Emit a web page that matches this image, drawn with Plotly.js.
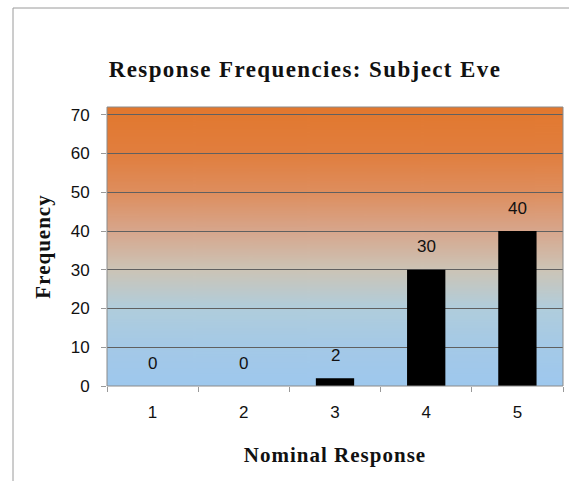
<!DOCTYPE html>
<html>
<head>
<meta charset="utf-8">
<script src="https://cdn.plot.ly/plotly-3.0.1.min.js"></script>
<style>
html,body{margin:0;padding:0;background:#fff;}
#chart{width:569px;height:481px;}
.gtitle{letter-spacing:1.4px;}
.xtitle,.ytitle{letter-spacing:1px;}
</style>
</head>
<body>
<div id="chart"></div>
<script>
const categories = ['1', '2', '3', '4', '5'];
const frequencies = [0, 0, 2, 30, 40];
const yTicks = [0, 10, 20, 30, 40, 50, 60, 70];

// vertical gradient background image
const cv = document.createElement('canvas');
cv.width = 8; cv.height = 400;
const ctx = cv.getContext('2d');
const g = ctx.createLinearGradient(0, 0, 0, 400);
g.addColorStop(0.0, 'rgb(226,120,46)');
g.addColorStop(0.167, 'rgb(225,126,62)');
g.addColorStop(0.306, 'rgb(222,142,94)');
g.addColorStop(0.444, 'rgb(215,166,140)');
g.addColorStop(0.583, 'rgb(204,196,182)');
g.addColorStop(0.722, 'rgb(176,205,220)');
g.addColorStop(0.861, 'rgb(164,201,231)');
g.addColorStop(1.0, 'rgb(158,200,238)');
ctx.fillStyle = g; ctx.fillRect(0, 0, 8, 400);
const bgUrl = cv.toDataURL('image/png');

const labelFont = {family: 'Liberation Sans, Arial, sans-serif', size: 17, color: '#111'};

const annotations = categories.map((c, i) => ({
  x: i, y: frequencies[i], xref: 'x', yref: 'y',
  text: String(frequencies[i]), showarrow: false,
  yanchor: 'middle', yshift: 23, font: labelFont
}));

const trace = {
  type: 'bar', x: categories, y: frequencies,
  marker: {color: '#000000', line: {width: 0}},
  hoverinfo: 'x+y'
};

const layout = {
  width: 569, height: 481,
  margin: {l: 107, r: 6, t: 107, b: 95},
  paper_bgcolor: '#ffffff',
  plot_bgcolor: 'rgba(0,0,0,0)',
  bargap: 0.58,
  showlegend: false,
  title: {
    text: '<b>Response Frequencies: Subject Eve</b>',
    font: {family: 'Liberation Serif, Times New Roman, serif', size: 23, color: '#111'},
    x: 305/569, xanchor: 'center', xref: 'container',
    y: 1 - 69/481, yanchor: 'middle', yref: 'container'
  },
  xaxis: {
    type: 'category',
    range: [-0.5, categories.length - 0.5],
    tickson: 'boundaries',
    ticks: 'outside', ticklen: 5, tickcolor: '#999',
    ticklabelstandoff: 14,
    showgrid: false, zeroline: false, showline: false,
    tickfont: labelFont,
    title: {text: '<b>Nominal Response</b>', standoff: 26,
      font: {family: 'Liberation Serif, Times New Roman, serif', size: 21, color: '#111'}}
  },
  yaxis: {
    range: [0, 72],
    tickvals: yTicks, ticktext: yTicks.map(String),
    ticks: 'outside', ticklen: 5, tickcolor: '#999',
    ticklabelstandoff: 8,
    showgrid: true, gridcolor: '#606060', gridwidth: 1,
    zeroline: false, showline: false,
    tickfont: labelFont,
    title: {text: '<b>Frequency</b>', standoff: 14,
      font: {family: 'Liberation Serif, Times New Roman, serif', size: 21, color: '#111'}}
  },
  images: [{
    source: bgUrl, xref: 'paper', yref: 'paper', x: 0, y: 1,
    sizex: 1, sizey: 1, sizing: 'stretch', xanchor: 'left', yanchor: 'top',
    layer: 'below', opacity: 1
  }],
  shapes: [
    {type: 'rect', xref: 'paper', yref: 'paper', x0: 0, x1: 1, y0: 0, y1: 1,
     line: {color: '#8a8a8a', width: 1}, fillcolor: 'rgba(0,0,0,0)', layer: 'above'},
    {type: 'line', xref: 'paper', yref: 'paper', x0: (13-107)/456, x1: 1.02, y0: 1 + (107-8)/279, y1: 1 + (107-8)/279,
     line: {color: '#9a9a9a', width: 1}},
    {type: 'line', xref: 'paper', yref: 'paper', x0: (13-107)/456, x1: (13-107)/456, y0: 1 + (107-8)/279, y1: -0.35,
     line: {color: '#9a9a9a', width: 1}}
  ],
  annotations: annotations
};

Plotly.newPlot('chart', [trace], layout, {displayModeBar: false, staticPlot: true});
</script>
</body>
</html>
